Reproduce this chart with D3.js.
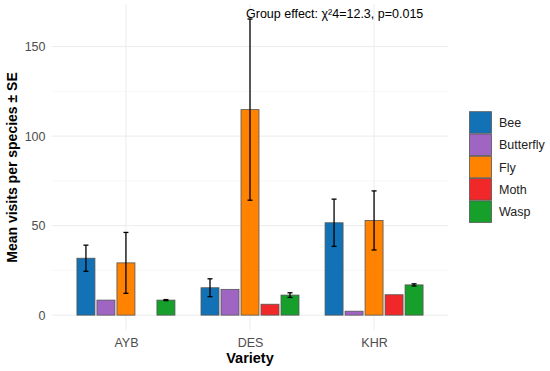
<!DOCTYPE html>
<html>
<head>
<script src="https://d3js.org/d3.v7.min.js"></script>
<style>
body{margin:0;background:#fff;}
text{font-family:"Liberation Sans",Arial,sans-serif;}
</style>
</head>
<body>
<svg width="550" height="371" id="mainsvg"></svg>
<script>
// data
const varieties = ['AYB', 'DES', 'KHR'];
const species = ['Bee', 'Butterfly', 'Fly', 'Moth', 'Wasp'];
const meanAYB = [31.8, 8.4, 29.2, 0, 8.4];
const seAYB   = [7.3, 0, 17.0, 0, 0.3];
const meanDES = [15.3, 14.4, 114.8, 6.1, 11.2];
const seDES   = [5.0, 0, 50.6, 0, 1.3];
const meanKHR = [51.6, 2.2, 52.9, 11.4, 16.9];
const seKHR   = [13.2, 0, 16.5, 0, 0.6];
const yTicks = [0, 50, 100, 150];
const yMinor = [25, 75, 125];
const colors = ['#1372b5', '#9e66c2', '#ff8200', '#f0282a', '#16a02b'];
const annotation = 'Group effect: \u03c7\u00b24=12.3, p=0.015';

const means = {AYB: meanAYB, DES: meanDES, KHR: meanKHR};
const ses = {AYB: seAYB, DES: seDES, KHR: seKHR};
const data = [];
varieties.forEach(v => {
  species.forEach((s, i) => {
    data.push({variety: v, species: s, mean: means[v][i], se: ses[v][i]});
  });
});

const svg = d3.select('#mainsvg');
const panel = {left: 51.5, right: 448.5, top: 4, bottom: 330};

const x = d3.scalePoint().domain(varieties).range([panel.left, panel.right]).padding(0.6);
const xInner = d3.scaleBand().domain(species).range([-49, 49]).paddingInner(0.1);
const y = d3.scaleLinear().domain([-8.3, 173.8]).range([panel.bottom, panel.top]);
const color = d3.scaleOrdinal().domain(species).range(colors);

// grid
const grid = svg.append('g');
grid.selectAll('.minor').data(yMinor).enter().append('line')
  .attr('x1', panel.left).attr('x2', panel.right)
  .attr('y1', d => y(d)).attr('y2', d => y(d))
  .attr('stroke', '#f4f4f4').attr('stroke-width', 0.6);
grid.selectAll('.major').data(yTicks).enter().append('line')
  .attr('x1', panel.left).attr('x2', panel.right)
  .attr('y1', d => y(d)).attr('y2', d => y(d))
  .attr('stroke', '#ececec').attr('stroke-width', 1);
grid.selectAll('.vmajor').data(varieties).enter().append('line')
  .attr('x1', d => x(d)).attr('x2', d => x(d))
  .attr('y1', panel.top).attr('y2', panel.bottom)
  .attr('stroke', '#ececec').attr('stroke-width', 1);

// bars
svg.append('g').selectAll('rect').data(data).enter().append('rect')
  .attr('x', d => x(d.variety) + xInner(d.species))
  .attr('y', d => y(d.mean))
  .attr('width', xInner.bandwidth())
  .attr('height', d => y(0) - y(d.mean))
  .attr('fill', d => color(d.species))
  .attr('stroke', '#555')
  .attr('stroke-width', 0.8);

// error bars
const eb = svg.append('g').selectAll('g').data(data.filter(d => d.se > 0)).enter().append('g')
  .attr('stroke', '#000').attr('stroke-width', 1.3);
const cx = d => x(d.variety) + xInner(d.species) + xInner.bandwidth() / 2;
eb.append('line').attr('x1', cx).attr('x2', cx)
  .attr('y1', d => y(d.mean + d.se)).attr('y2', d => y(d.mean - d.se));
eb.append('line').attr('x1', d => cx(d) - 2.5).attr('x2', d => cx(d) + 2.5)
  .attr('y1', d => y(d.mean + d.se)).attr('y2', d => y(d.mean + d.se));
eb.append('line').attr('x1', d => cx(d) - 2.5).attr('x2', d => cx(d) + 2.5)
  .attr('y1', d => y(d.mean - d.se)).attr('y2', d => y(d.mean - d.se));

// axes
const yaxis = d3.axisLeft(y).tickValues(yTicks).tickSize(0).tickPadding(6);
const gy = svg.append('g').attr('transform', `translate(${panel.left},0)`).call(yaxis);
gy.select('.domain').remove();
gy.selectAll('text').attr('fill', '#4d4d4d').style('font-size', '12.5px')
  .style('font-family', '"Liberation Sans",Arial,sans-serif');

const xaxis = d3.axisBottom(x).tickSize(0).tickPadding(8);
const gx = svg.append('g').attr('transform', `translate(0,${panel.bottom})`).call(xaxis);
gx.select('.domain').remove();
gx.selectAll('text').attr('fill', '#4d4d4d').style('font-size', '12.5px')
  .style('font-family', '"Liberation Sans",Arial,sans-serif');

svg.append('text')
  .attr('transform', `translate(17,167.5) rotate(-90)`)
  .attr('text-anchor', 'middle')
  .style('font-size', '14px').style('font-weight', 'bold')
  .text('Mean visits per species \u00b1 SE');

svg.append('text')
  .attr('x', (panel.left + panel.right) / 2).attr('y', 363)
  .attr('text-anchor', 'middle')
  .style('font-size', '14.5px').style('font-weight', 'bold')
  .text('Variety');

svg.append('text')
  .attr('x', 246).attr('y', 18)
  .style('font-size', '12.5px')
  .text(annotation);

// legend
const legend = svg.append('g').selectAll('g').data(species).enter().append('g')
  .attr('transform', (d, i) => `translate(469.5,${111.7 + i * 22.3})`);
legend.append('rect')
  .attr('width', 22).attr('height', 21.5)
  .attr('fill', d => color(d))
  .attr('stroke', '#555').attr('stroke-width', 0.8);
legend.append('text')
  .attr('x', 29.5).attr('y', 11)
  .attr('dy', '0.35em')
  .style('font-size', '12.5px')
  .attr('fill', '#222')
  .text(d => d);
</script>
</body>
</html>
